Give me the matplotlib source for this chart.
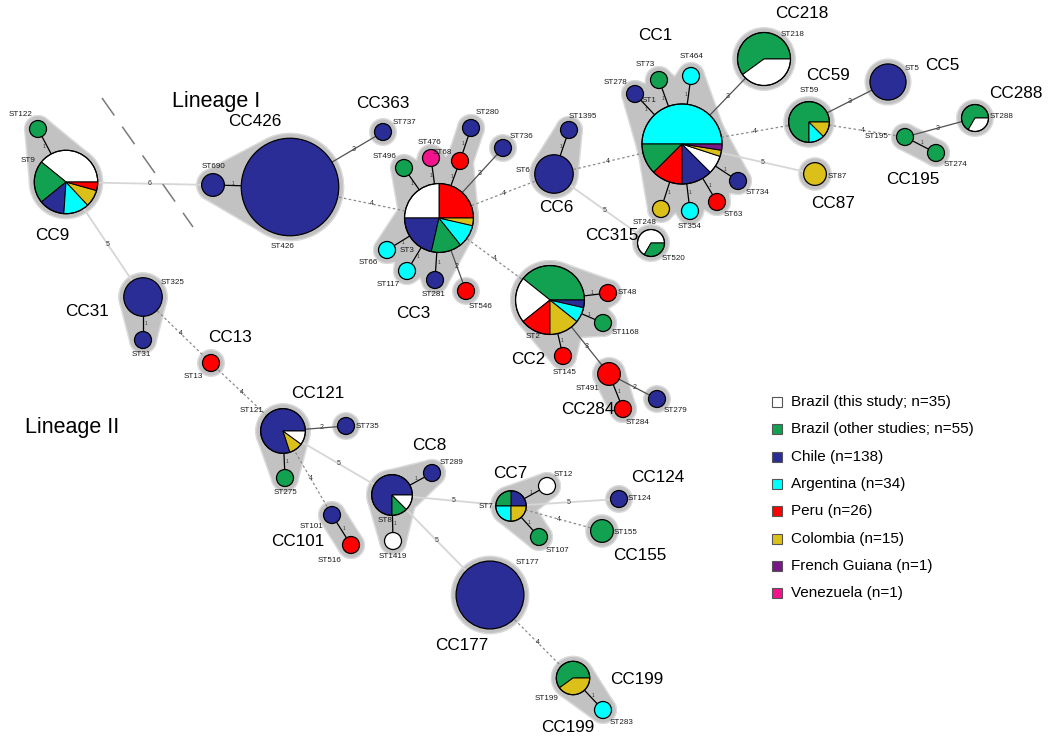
import numpy as np
import matplotlib.pyplot as plt
from matplotlib.patches import Circle, Wedge, Polygon, Rectangle

plt.rcParams['font.family'] = ['Liberation Sans', 'DejaVu Sans']

# country colours and legend text
countries = ['BR', 'BRo', 'CL', 'AR', 'PE', 'CO', 'GF', 'VE']
country_colors = ['#ffffff', '#12a150', '#2b2d96', '#00ffff', '#ff0000', '#dcc01a', '#7a1888', '#f2148c']
legend_labels = ['Brazil (this study; n=35)', 'Brazil (other studies; n=55)', 'Chile (n=138)',
                 'Argentina (n=34)', 'Peru (n=26)', 'Colombia (n=15)', 'French Guiana (n=1)',
                 'Venezuela (n=1)']
color_of = dict(zip(countries, country_colors))

# isolates per ST, slices listed counter-clockwise from east
st_counts = {
    'ST122': [('BRo', 1)],
    'ST9': [('BR', 9), ('BRo', 5), ('CL', 3), ('AR', 3), ('CO', 2), ('PE', 1)],
    'ST690': [('CL', 2)],
    'ST426': [('CL', 64)],
    'ST737': [('CL', 1)],
    'ST496': [('BRo', 1)],
    'ST476': [('VE', 1)],
    'ST68': [('PE', 1)],
    'ST280': [('CL', 1)],
    'ST736': [('CL', 1)],
    'ST3': [('PE', 7), ('BR', 7), ('CL', 6), ('BRo', 4), ('AR', 3), ('CO', 1)],
    'ST66': [('AR', 1)],
    'ST117': [('AR', 1)],
    'ST281': [('CL', 1)],
    'ST546': [('PE', 1)],
    'ST1395': [('CL', 1)],
    'ST6': [('CL', 7)],
    'ST2': [('BRo', 11), ('BR', 6), ('PE', 4), ('CO', 4), ('AR', 2), ('CL', 1)],
    'ST48': [('PE', 1)],
    'ST1168': [('BRo', 1)],
    'ST145': [('PE', 1)],
    'ST491': [('PE', 2)],
    'ST284': [('PE', 1)],
    'ST279': [('CL', 1)],
    'ST520': [('BR', 2), ('BRo', 1)],
    'ST1': [('AR', 20), ('BRo', 5), ('PE', 5), ('CL', 5), ('BR', 3), ('CO', 1), ('GF', 1)],
    'ST278': [('CL', 1)],
    'ST73': [('BRo', 1)],
    'ST464': [('AR', 1)],
    'ST734': [('CL', 1)],
    'ST63': [('PE', 1)],
    'ST354': [('AR', 1)],
    'ST248': [('CO', 1)],
    'ST218': [('BRo', 9), ('BR', 6)],
    'ST59': [('BRo', 6), ('AR', 1), ('CO', 1)],
    'ST5': [('CL', 6)],
    'ST87': [('CO', 2)],
    'ST195': [('BRo', 1)],
    'ST274': [('BRo', 1)],
    'ST288': [('BRo', 2), ('BR', 1)],
    'ST325': [('CL', 7)],
    'ST31': [('CL', 1)],
    'ST13': [('PE', 1)],
    'ST121': [('CL', 8), ('CO', 1), ('BR', 1)],
    'ST735': [('CL', 1)],
    'ST275': [('BRo', 1)],
    'ST101': [('CL', 1)],
    'ST516': [('PE', 1)],
    'ST8': [('CL', 6), ('BRo', 1), ('BR', 1)],
    'ST289': [('CL', 1)],
    'ST1419': [('BR', 1)],
    'ST7': [('CL', 1), ('BRo', 1), ('AR', 1), ('CO', 1)],
    'ST12': [('BR', 1)],
    'ST107': [('BRo', 1)],
    'ST124': [('CL', 1)],
    'ST155': [('BRo', 2)],
    'ST177': [('CL', 27)],
    'ST199': [('BRo', 3), ('CO', 2)],
    'ST283': [('AR', 1)],
}

# links: (ST, ST, allelic differences)
links = [
    ('ST9', 'ST122', 1), ('ST9', 'ST690', 6), ('ST9', 'ST325', 5), ('ST690', 'ST426', 1),
    ('ST426', 'ST737', 3), ('ST426', 'ST3', 4), ('ST3', 'ST496', 1), ('ST3', 'ST476', 1),
    ('ST3', 'ST68', 1), ('ST68', 'ST280', 1), ('ST3', 'ST736', 3), ('ST3', 'ST66', 1),
    ('ST3', 'ST117', 1), ('ST3', 'ST281', 1), ('ST3', 'ST546', 2), ('ST3', 'ST6', 4),
    ('ST3', 'ST2', 4), ('ST6', 'ST1395', 1), ('ST6', 'ST1', 4), ('ST6', 'ST520', 5),
    ('ST1', 'ST278', 1), ('ST1', 'ST73', 1), ('ST1', 'ST464', 1), ('ST1', 'ST734', 1),
    ('ST1', 'ST63', 1), ('ST1', 'ST354', 1), ('ST1', 'ST248', 1), ('ST1', 'ST218', 3),
    ('ST1', 'ST59', 4), ('ST1', 'ST87', 5), ('ST59', 'ST5', 3), ('ST59', 'ST195', 4),
    ('ST195', 'ST274', 1), ('ST195', 'ST288', 3), ('ST2', 'ST48', 1), ('ST2', 'ST1168', 1),
    ('ST2', 'ST145', 1), ('ST2', 'ST491', 3), ('ST491', 'ST284', 1), ('ST491', 'ST279', 2),
    ('ST325', 'ST31', 1), ('ST325', 'ST13', 4), ('ST13', 'ST121', 4), ('ST121', 'ST735', 2),
    ('ST121', 'ST275', 1), ('ST121', 'ST101', 4), ('ST121', 'ST8', 5), ('ST101', 'ST516', 1),
    ('ST8', 'ST289', 1), ('ST8', 'ST1419', 1), ('ST8', 'ST7', 5), ('ST8', 'ST177', 5),
    ('ST7', 'ST12', 1), ('ST7', 'ST107', 1), ('ST7', 'ST124', 5), ('ST7', 'ST155', 4),
    ('ST177', 'ST199', 4), ('ST199', 'ST283', 1),
]

# node layout (pixel space of the figure)
layout = {
    'ST122': (38, 129), 'ST9': (66, 182), 'ST690': (213, 185), 'ST426': (290, 187),
    'ST737': (383, 132), 'ST496': (404, 168), 'ST476': (431, 158), 'ST68': (460, 161),
    'ST280': (471, 128), 'ST736': (503, 148), 'ST3': (439, 218), 'ST66': (387, 250),
    'ST117': (407, 271), 'ST281': (435, 280), 'ST546': (466, 291), 'ST1395': (569, 130),
    'ST6': (554, 174), 'ST2': (550, 300), 'ST48': (608, 293), 'ST1168': (603, 323),
    'ST145': (563, 356), 'ST491': (609, 374), 'ST284': (623, 409), 'ST279': (657, 399),
    'ST520': (651, 243), 'ST1': (682, 144), 'ST278': (635, 94), 'ST73': (659, 80),
    'ST464': (691, 76), 'ST734': (738, 181), 'ST63': (717, 202), 'ST354': (690, 211),
    'ST248': (661, 209), 'ST218': (764, 59), 'ST59': (809, 122), 'ST5': (888, 82),
    'ST87': (815, 174), 'ST195': (905, 137), 'ST274': (936, 153), 'ST288': (975, 118),
    'ST325': (143, 297), 'ST31': (143, 340), 'ST13': (211, 363), 'ST121': (283, 431),
    'ST735': (346, 426), 'ST275': (285, 478), 'ST101': (332, 515), 'ST516': (351, 545),
    'ST8': (392, 495), 'ST289': (432, 473), 'ST1419': (393, 541), 'ST7': (511, 506),
    'ST12': (547, 486), 'ST107': (539, 537), 'ST124': (619, 499), 'ST155': (602, 531),
    'ST177': (490, 595), 'ST199': (573, 678), 'ST283': (603, 710),
}

st_label_pos = {
    'ST122': (21, 115), 'ST9': (28, 160), 'ST690': (213, 166), 'ST426': (283, 246),
    'ST325': (173, 283), 'ST31': (141, 355), 'ST13': (193, 376), 'ST121': (252, 411),
    'ST735': (367, 426), 'ST275': (286, 493), 'ST101': (311, 527), 'ST516': (330, 560),
    'ST8': (385, 521), 'ST1419': (393, 556), 'ST289': (452, 463), 'ST7': (486, 507),
    'ST12': (563, 475), 'ST107': (557, 550), 'ST124': (640, 499), 'ST155': (626, 533),
    'ST177': (527, 563), 'ST199': (547, 698), 'ST283': (622, 723), 'ST737': (404, 123),
    'ST496': (385, 156), 'ST476': (429, 143), 'ST68': (442, 152), 'ST280': (487, 113),
    'ST736': (521, 136), 'ST3': (407, 250), 'ST66': (368, 262), 'ST117': (388, 284),
    'ST281': (434, 295), 'ST546': (481, 307), 'ST1395': (583, 116), 'ST6': (523, 171),
    'ST2': (533, 337), 'ST48': (627, 293), 'ST1168': (626, 333), 'ST145': (565, 372),
    'ST491': (588, 388), 'ST284': (638, 423), 'ST279': (676, 410), 'ST520': (673, 258),
    'ST248': (645, 223), 'ST1': (649, 100), 'ST278': (615, 82), 'ST73': (645, 65),
    'ST464': (692, 56), 'ST734': (757, 192), 'ST63': (733, 214), 'ST354': (690, 226),
    'ST218': (793, 34), 'ST59': (809, 91), 'ST5': (912, 69), 'ST87': (837, 177),
    'ST195': (877, 137), 'ST274': (955, 164), 'ST288': (1002, 117),
}

cc_labels = [
    ('CC9', 52, 235), ('CC426', 255, 121), ('CC363', 383, 103), ('CC3', 413, 313),
    ('CC6', 556, 208), ('CC315', 612, 235), ('CC1', 655, 36), ('CC218', 802, 14),
    ('CC59', 828, 76), ('CC5', 942, 65), ('CC288', 1016, 94), ('CC195', 913, 179),
    ('CC87', 833, 204), ('CC2', 528, 360), ('CC284', 588, 410), ('CC31', 87, 312),
    ('CC13', 230, 337), ('CC121', 318, 393), ('CC101', 298, 542), ('CC8', 429, 445),
    ('CC7', 510, 473), ('CC124', 658, 477), ('CC155', 640, 556), ('CC177', 462, 645),
    ('CC199', 637, 679), ('CC199', 568, 728),
]


def radius(st):
    n = sum(c for _, c in st_counts[st])
    return 8.5 * n ** 0.42


def hull(points):
    pts = sorted(map(tuple, points))

    def cross(o, a, b):
        return (a[0] - o[0]) * (b[1] - o[1]) - (a[1] - o[1]) * (b[0] - o[0])
    lower, upper = [], []
    for p in pts:
        while len(lower) >= 2 and cross(lower[-2], lower[-1], p) <= 0:
            lower.pop()
        lower.append(p)
    for p in reversed(pts):
        while len(upper) >= 2 and cross(upper[-2], upper[-1], p) <= 0:
            upper.pop()
        upper.append(p)
    return lower[:-1] + upper[:-1]


def capsule(a, b, pad):
    t = np.linspace(0, 2 * np.pi, 60, endpoint=False)
    pts = []
    for st in (a, b):
        x, y = layout[st]
        r = radius(st) + pad
        pts += list(zip(x + r * np.cos(t), y + r * np.sin(t)))
    return hull(pts)


fig = plt.figure(figsize=(10.5, 7.43), dpi=100)
ax = fig.add_axes([0, 0, 1, 1])
ax.set_xlim(0, 1050)
ax.set_ylim(743, 0)
ax.set_aspect('equal')
ax.axis('off')

# grey halos / cluster hulls
for pad, col, z in [(5.5, '#dadada', 1), (4.0, '#c2c2c2', 2)]:
    for st in layout:
        ax.add_patch(Circle(layout[st], radius(st) + pad, color=col, lw=0, zorder=z))
    for a, b, d in links:
        if d == 1:
            ax.add_patch(Polygon(capsule(a, b, pad), closed=True, color=col, lw=0, zorder=z))

# links
for a, b, d in links:
    (x1, y1), (x2, y2) = layout[a], layout[b]
    if d == 1:
        kw = dict(color='black', lw=0.9)
    elif d <= 3:
        kw = dict(color='#505050', lw=0.9)
    elif d == 4:
        kw = dict(color='#8a8a8a', lw=0.9, ls=(0, (2, 2)))
    else:
        kw = dict(color='#d6d6d6', lw=1.3)
    ax.plot([x1, x2], [y1, y2], zorder=3, solid_capstyle='butt', **kw)
    v = np.array([x2 - x1, y2 - y1], float)
    u = v / np.hypot(*v)
    p1 = np.array([x1, y1]) + u * radius(a)
    p2 = np.array([x2, y2]) - u * radius(b)
    m = (p1 + p2) / 2
    if d == 1:
        m = m + np.array([u[1], -u[0]]) * 2.5
    ax.text(m[0], m[1], str(d), fontsize=3.5 if d == 1 else 5, color='#333333',
            ha='center', va='center', zorder=4)

# nodes
for st, parts in st_counts.items():
    x, y = layout[st]
    r = radius(st)
    if len(parts) == 1:
        ax.add_patch(Circle((x, y), r, facecolor=color_of[parts[0][0]],
                            edgecolor='black', lw=0.9, zorder=5))
        continue
    total = sum(c for _, c in parts)
    a0 = 0.0
    for country, c in parts:
        a1 = a0 + 360.0 * c / total
        # y axis is inverted, so screen angles are negated
        ax.add_patch(Wedge((x, y), r, -a1, -a0, facecolor=color_of[country],
                           edgecolor='black', lw=0.7, zorder=5))
        a0 = a1
    ax.add_patch(Circle((x, y), r, fill=False, edgecolor='black', lw=0.9, zorder=6))

# ST labels
for st, (lx, ly) in st_label_pos.items():
    ax.text(lx, ly, st, fontsize=5.8, color='#1a1a1a', ha='center', va='center', zorder=7)

# CC labels
for name, lx, ly in cc_labels:
    ax.text(lx, ly, name, fontsize=12.3, ha='center', va='center', zorder=7)

ax.text(216, 101, 'Lineage I', fontsize=15.5, ha='center', va='center')
ax.text(72, 428, 'Lineage II', fontsize=15.5, ha='center', va='center')

# lineage separator
ax.plot([102, 193], [98, 227], color='#7a7a7a', lw=1.1, ls=(0, (14, 9)), zorder=3)

# legend
for i, (col, lab) in enumerate(zip(country_colors, legend_labels)):
    yy = 402 + 27.3 * i
    ax.add_patch(Rectangle((772, yy - 5), 10, 10, facecolor=col, edgecolor='#555555',
                           lw=0.8, zorder=5))
    ax.text(791, yy, lab, fontsize=11, ha='left', va='center')

fig.savefig('out.png', dpi=100)
